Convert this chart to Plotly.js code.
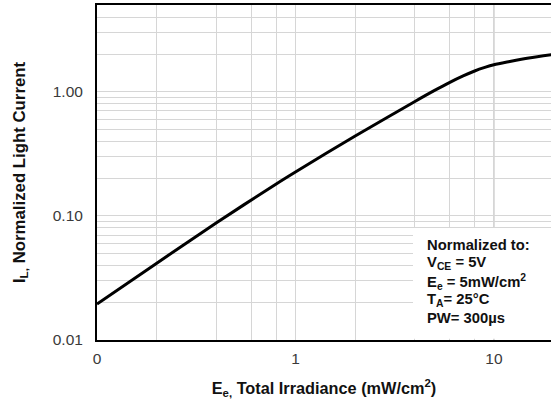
<!DOCTYPE html>
<html>
<head>
<meta charset="utf-8">
<script src="https://cdn.plot.ly/plotly-3.0.1.min.js"></script>
<style>
html,body{margin:0;padding:0;overflow:hidden;background:#fff;}
#chart{width:551px;height:407px;}
</style>
</head>
<body>
<div id="chart"></div>
<script>
// Data
const irradiance = [0.1, 0.2, 0.4, 0.8, 1, 2, 3, 4, 5, 6, 7, 8, 9, 10, 12, 15, 20];
const lightCurrent = [0.0195, 0.0416, 0.088, 0.181, 0.226, 0.44, 0.64, 0.835, 1.02, 1.19, 1.34, 1.47, 1.57, 1.65, 1.75, 1.87, 2.0];

const xGridVals = [0.1, 0.2, 0.4, 0.6, 0.8, 1, 2, 4, 6, 8, 10, 20];
const xTickText = ['0', '', '', '', '', '1', '', '', '', '', '10', ''];
const yGridVals = [0.01, 0.02, 0.03, 0.04, 0.05, 0.06, 0.07, 0.08, 0.09,
                   0.1, 0.2, 0.3, 0.4, 0.5, 0.6, 0.7, 0.8, 0.9, 1, 2, 3, 4, 5];
const yTickText = ['0.01', '', '', '', '', '', '', '', '',
                   '0.10', '', '', '', '', '', '', '', '', '1.00', '', '', '', ''];

const noteLines = ['Normalized to:', 'V<sub>CE</sub> = 5V', 'E<sub>e</sub> = 5mW/cm<sup>2</sup>',
                   'T<sub>A</sub>= 25°C', 'PW= 300µs'];

const trace = {
  x: irradiance, y: lightCurrent, type: 'scatter', mode: 'lines',
  line: {color: '#000', width: 3, shape: 'spline', smoothing: 0.8},
  hoverinfo: 'skip'
};

const fam = 'Liberation Sans, Arial, sans-serif';

// note box lines, evenly spaced from the top of the box
const noteTop = 0.284, noteStep = 0.0548;
const noteAnnotations = noteLines.map((t, i) => ({
  xref: 'paper', yref: 'paper', x: 0.723, y: noteTop - i * noteStep,
  xanchor: 'left', yanchor: 'middle', align: 'left', showarrow: false,
  text: '<b>' + t + '</b>',
  font: {size: 14.8, color: '#111', family: fam}
}));

const layout = {
  width: 551, height: 407,
  margin: {l: 97, r: 0, t: 5, b: 67, pad: 0},
  paper_bgcolor: '#fff', plot_bgcolor: '#fff',
  showlegend: false,
  font: {family: fam, color: '#333'},
  xaxis: {
    type: 'log', range: [-1, Math.log10(19.4)],
    tickmode: 'array', tickvals: xGridVals, ticktext: xTickText,
    ticks: 'outside', ticklen: 3, tickcolor: 'rgba(0,0,0,0)',
    tickfont: {size: 15.5, color: '#3a3a3a', family: fam},
    showgrid: true, gridcolor: '#d6d6d6', gridwidth: 1,
    showline: true, linecolor: '#000', linewidth: 2, mirror: true,
    zeroline: false,
    title: {text: '<b>E<sub>e,</sub> Total Irradiance (mW/cm<sup>2</sup>)</b>',
            font: {size: 16.3, color: '#111', family: fam}, standoff: 17}
  },
  yaxis: {
    type: 'log', range: [-2, Math.log10(5)],
    tickmode: 'array', tickvals: yGridVals, ticktext: yTickText,
    ticks: 'outside', ticklen: 9, tickcolor: 'rgba(0,0,0,0)',
    tickfont: {size: 15.5, color: '#3a3a3a', family: fam},
    showgrid: true, gridcolor: '#d6d6d6', gridwidth: 1,
    showline: true, linecolor: '#000', linewidth: 2, mirror: false,
    zeroline: false,
    title: {text: '<b>I<sub>L,</sub> Normalized Light Current</b>',
            font: {size: 16.8, color: '#111', family: fam}, standoff: 23}
  },
  shapes: [
    {type: 'line', xref: 'x', yref: 'paper', x0: 10, x1: 10, y0: 0, y1: 1,
     line: {color: '#a8a8a8', width: 1}, layer: 'below'},
    {type: 'rect', xref: 'paper', yref: 'paper', x0: 0.696, x1: 1.0, y0: 0.004, y1: 0.334,
     fillcolor: '#fff', line: {width: 0}, layer: 'above'}
  ],
  annotations: noteAnnotations
};

Plotly.newPlot('chart', [trace], layout, {displayModeBar: false, staticPlot: true});
</script>
</body>
</html>
